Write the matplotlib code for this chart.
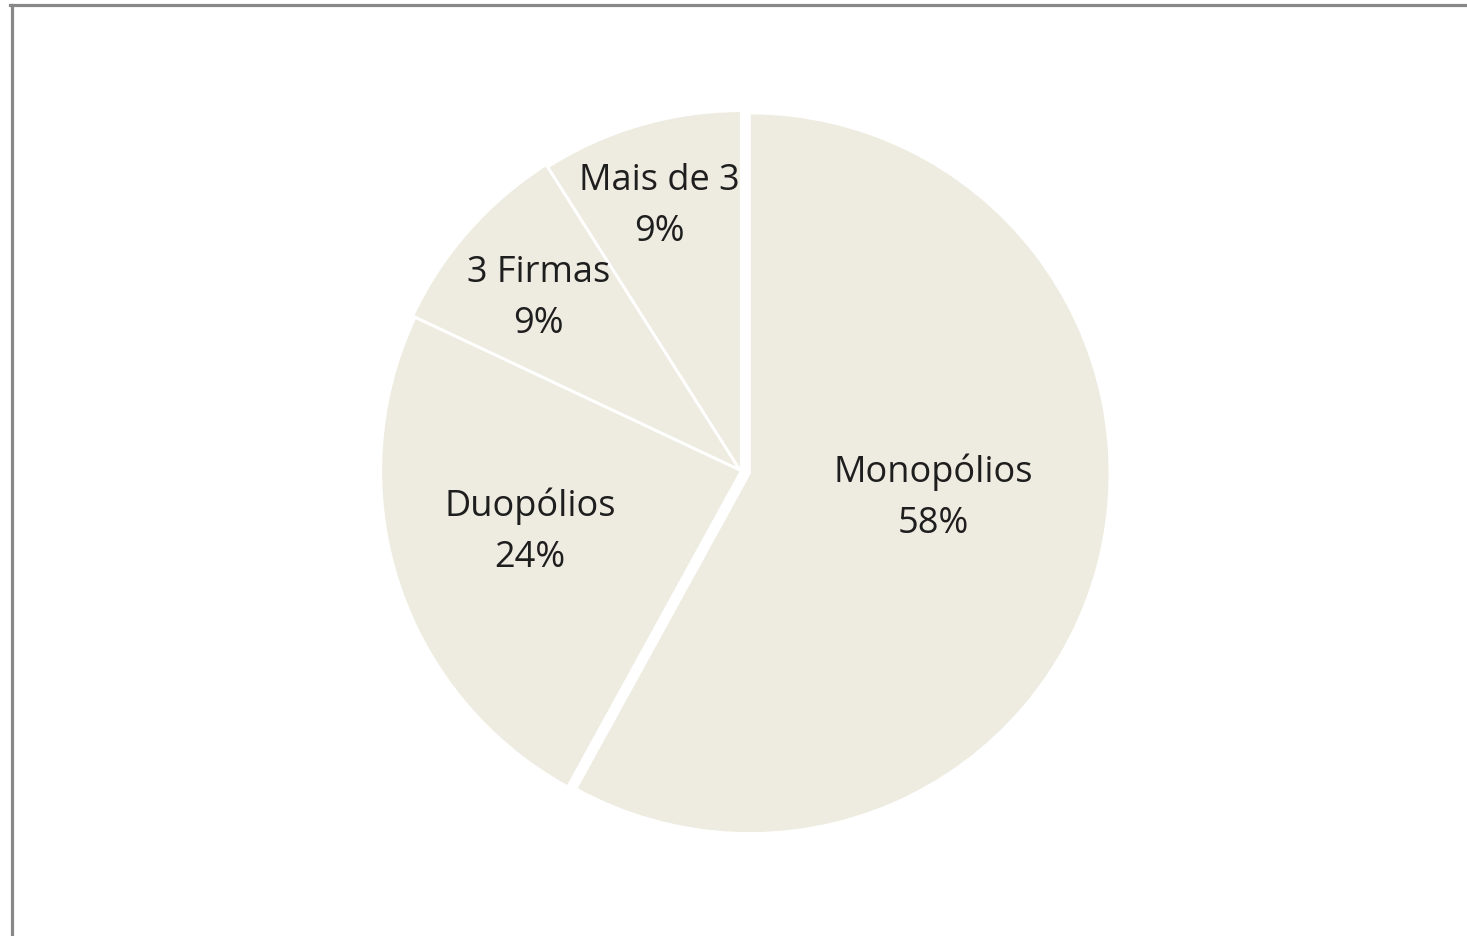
import numpy as np
import matplotlib
matplotlib.use("Agg")
import matplotlib.pyplot as plt
from matplotlib.lines import Line2D

# dados
categorias = ["Monopólios", "Duopólios", "3 Firmas", "Mais de 3"]
valores = [58, 24, 9, 9]

plt.rcParams['font.family'] = ['Open Sans', 'DejaVu Sans']

W, H = 1467, 936
fig = plt.figure(figsize=(W / 100, H / 100), dpi=100)

# eixo centrado no centro da pizza
cx, cy, r = 741, 465, 360
m = 1.06
ax = fig.add_axes([(cx - r * m) / W, (cy - r * m) / H, 2 * r * m / W, 2 * r * m / H])

wedges, _ = ax.pie(valores, startangle=90, counterclock=False,
                   colors=['#EEECE1'] * 4, explode=[0.025, 0, 0.008, 0],
                   wedgeprops=dict(edgecolor='white', linewidth=1.6))
ax.set_xlim(-m, m)
ax.set_ylim(-m, m)
ax.set_aspect('equal')
ax.axis('off')

# rotulos dentro das fatias
dist = [0.54, 0.61, 0.74, 0.77]
giro = [6.5, -2, 1, 1]
for w, cat, v, d, g in zip(wedges, categorias, valores, dist, giro):
    ang = np.deg2rad((w.theta1 + w.theta2) / 2 + g)
    ax.text(d * np.cos(ang), d * np.sin(ang), f"{cat}\n{v}%",
            ha='center', va='center', fontsize=26, color='#1e1e1e',
            linespacing=1.56)

# moldura cinza (so aparecem as bordas superior e esquerda)
fig.add_artist(Line2D([11.5 / W, 11.5 / W], [0, 1 - 4.5 / H], color='#888888', lw=2.3,
                      transform=fig.transFigure))
fig.add_artist(Line2D([10 / W, 1.01], [1 - 4.5 / H, 1 - 4.5 / H], color='#888888', lw=2.3,
                      transform=fig.transFigure))

fig.savefig("out.png", dpi=100, facecolor='white')
